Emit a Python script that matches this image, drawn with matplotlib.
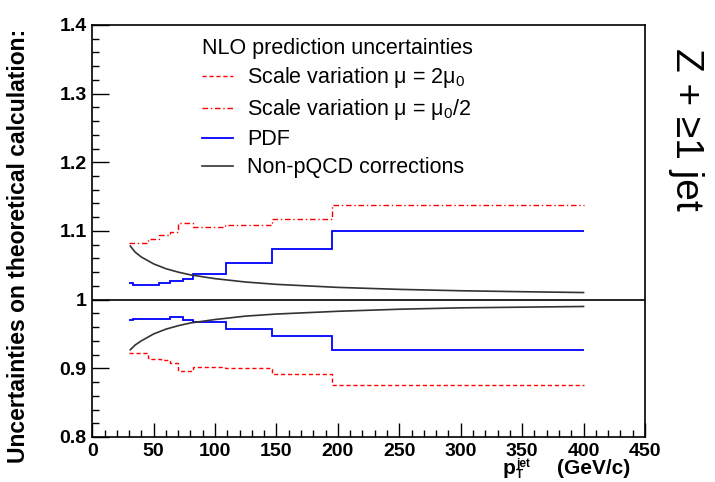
import numpy as np
import matplotlib.pyplot as plt
from matplotlib.ticker import MultipleLocator
from matplotlib.lines import Line2D

plt.rcParams['font.family'] = ['Liberation Sans', 'DejaVu Sans']
plt.rcParams['mathtext.fontset'] = 'custom'
plt.rcParams['mathtext.rm'] = 'Liberation Sans'
plt.rcParams['mathtext.it'] = 'Liberation Sans:italic'
plt.rcParams['mathtext.bf'] = 'Liberation Sans:bold'

# scale variation mu = mu0/2 (upper band)
half_edges = [30, 45, 54, 63, 70, 82, 108, 146, 195, 400]
half_vals = [1.083, 1.088, 1.094, 1.0986, 1.112, 1.105, 1.109, 1.118, 1.1377]

# scale variation mu = 2 mu0 (lower band)
double_edges = [30, 45, 48, 56, 63, 70, 82, 108, 146, 195, 400]
double_vals = [0.9227, 0.9155, 0.914, 0.9116, 0.908, 0.896, 0.9019, 0.900, 0.891, 0.8758]

# PDF uncertainty
pdf_up_edges = [30, 33, 54, 63, 74, 82, 109, 146, 195, 400]
pdf_up_vals = [1.0242, 1.0217, 1.0242, 1.027, 1.030, 1.0377, 1.054, 1.0734, 1.1005]
pdf_dn_edges = [30, 33, 63, 74, 82, 109, 146, 195, 400]
pdf_dn_vals = [0.970, 0.9724, 0.975, 0.971, 0.967, 0.9575, 0.947, 0.9266]

# non-perturbative corrections
npc_pt = [31, 35, 40, 50, 60, 70, 80, 100, 125, 150, 200, 250, 300, 350, 400]
npc_up = [1.078, 1.069, 1.062, 1.052, 1.045, 1.040, 1.036, 1.0305, 1.0256, 1.0222,
          1.0178, 1.0149, 1.0129, 1.0115, 1.0103]
npc_dn = [0.927, 0.934, 0.940, 0.950, 0.957, 0.962, 0.966, 0.971, 0.976, 0.979,
          0.983, 0.986, 0.988, 0.989, 0.990]

fig = plt.figure(figsize=(7.15, 4.82), dpi=100)
ax = fig.add_axes([0.129, 0.0934, 0.773, 0.855])

ax.axhline(1.0, color='black', lw=1.2)

dash = (0, (3, 2))
dashdot = (0, (4, 2, 1, 2))
ax.stairs(half_vals, half_edges, color='red', lw=1.0, linestyle=dashdot, baseline=None)
ax.stairs(double_vals, double_edges, color='red', lw=1.0, linestyle=dash, baseline=None)
ax.stairs(pdf_up_vals, pdf_up_edges, color='blue', lw=1.3, baseline=None)
ax.stairs(pdf_dn_vals, pdf_dn_edges, color='blue', lw=1.3, baseline=None)
ax.plot(npc_pt, npc_up, color='#333333', lw=1.2)
ax.plot(npc_pt, npc_dn, color='#333333', lw=1.2)

ax.set_xlim(0, 450)
ax.set_ylim(0.8, 1.4)
ax.xaxis.set_major_locator(MultipleLocator(50))
ax.xaxis.set_minor_locator(MultipleLocator(10))
ax.yaxis.set_major_locator(MultipleLocator(0.1))
ax.yaxis.set_minor_locator(MultipleLocator(0.02))
ax.tick_params(which='both', direction='in', top=False, right=False)
ax.tick_params(axis='y', which='major', length=12, width=1)
ax.tick_params(axis='x', which='major', length=10, width=1)
ax.tick_params(which='minor', length=5, width=1)
ax.tick_params(axis='both', labelsize=14, pad=4)
ax.set_yticks([0.8, 0.9, 1.0, 1.1, 1.2, 1.3, 1.4])
ax.set_yticklabels(['0.8', '0.9', '1', '1.1', '1.2', '1.3', '1.4'])
for lab in ax.get_xticklabels() + ax.get_yticklabels():
    lab.set_fontweight('bold')
for sp in ax.spines.values():
    sp.set_linewidth(1.2)

fig.text(0.026, 0.49, 'Uncertainties on theoretical calculation:', rotation=90,
         ha='center', va='center', fontsize=16.5, fontweight='bold')

# x title built from pieces so the jet/T indices stay compact
fig.text(0.703, 0.016, 'p', ha='left', va='baseline', fontsize=15, fontweight='bold')
fig.text(0.722, 0.031, 'jet', ha='left', va='baseline', fontsize=8.5, fontweight='bold')
fig.text(0.722, 0.008, 'T', ha='left', va='baseline', fontsize=8.5, fontweight='bold')
fig.text(0.881, 0.016, '(GeV/c)', ha='right', va='baseline', fontsize=15,
         fontweight='bold')

fig.text(0.96, 0.732, 'Z + ≥1 jet', rotation=270, ha='center', va='center',
         fontsize=28)

handles = [Line2D([], [], color='red', lw=1.0, linestyle=dash),
           Line2D([], [], color='red', lw=1.0, linestyle=dashdot),
           Line2D([], [], color='blue', lw=1.3),
           Line2D([], [], color='#333333', lw=1.2)]
labels = ['Scale variation μ = 2μ$_0$',
          'Scale variation μ = μ$_0$/2',
          'PDF',
          'Non-pQCD corrections']
leg = ax.legend(handles, labels, title='NLO prediction uncertainties',
                loc='upper left', bbox_to_anchor=(0.183, 0.99), borderaxespad=0,
                frameon=False, fontsize=15.5, title_fontsize=15.5,
                handlelength=1.45, handletextpad=0.65, labelspacing=0.32,
                alignment='left')

fig.savefig('out.png', dpi=100)
